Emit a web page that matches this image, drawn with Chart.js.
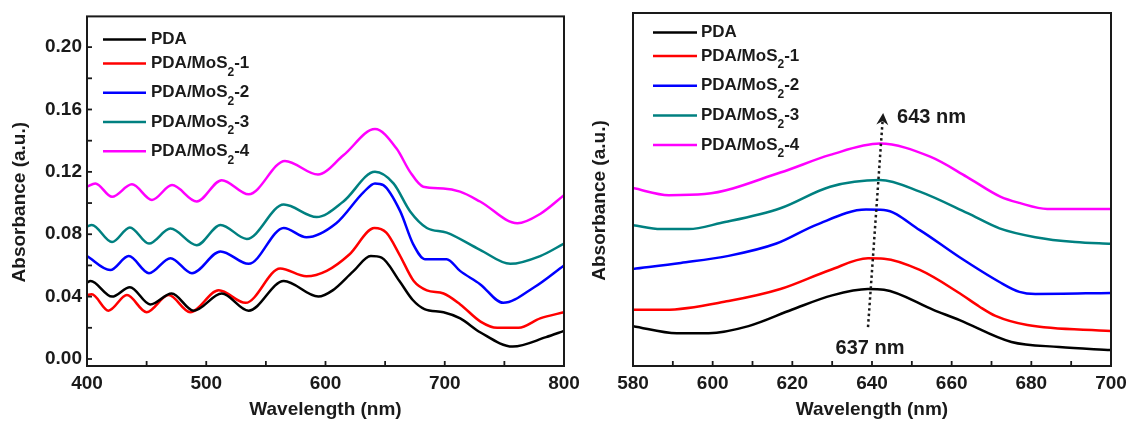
<!DOCTYPE html>
<html>
<head>
<meta charset="utf-8">
<script src="https://cdn.jsdelivr.net/npm/chart.js@4.4.0/dist/chart.umd.min.js"></script>
<style>
  html, body { margin: 0; padding: 0; background: #fff; }
  #wrap { position: relative; width: 1133px; height: 421px; }
  .panel { position: absolute; top: 0; height: 421px; }
  #left { left: 0; width: 600px; }
  #right { left: 575px; width: 558px; }
</style>
</head>
<body>
<div id="wrap">
  <div class="panel" id="left"><canvas id="fullChart"></canvas></div>
  <div class="panel" id="right"><canvas id="zoomChart"></canvas></div>
</div>
<script>
// Series names and colours
var seriesNames = ['PDA', 'PDA/MoS2-1', 'PDA/MoS2-2', 'PDA/MoS2-3', 'PDA/MoS2-4'];
var seriesColors = ['#000000', '#ff0000', '#0000ff', '#008080', '#ff00ff'];

// Left panel: full spectra 400-800 nm
var pdaWl = [400, 403, 421, 436, 453, 471, 489.5, 513, 535.5, 565, 594, 606, 623, 638, 647, 662, 673, 683, 699, 713, 730, 757, 785, 800];
var pdaAbs = [0.049, 0.050, 0.040, 0.046, 0.035, 0.042, 0.031, 0.042, 0.031, 0.050, 0.040, 0.044, 0.056, 0.066, 0.065, 0.050, 0.038, 0.032, 0.030, 0.026, 0.017, 0.008, 0.014, 0.018];
var mos1Wl = [400, 404, 418, 433.5, 450, 468.5, 486.5, 510.5, 533, 562, 584, 601, 620, 641, 651, 662, 674, 685, 699, 713, 730, 744, 762, 780, 800];
var mos1Abs = [0.041, 0.0415, 0.031, 0.041, 0.030, 0.041, 0.030, 0.044, 0.036, 0.058, 0.053, 0.0565, 0.067, 0.084, 0.081, 0.067, 0.050, 0.044, 0.042, 0.035, 0.024, 0.020, 0.020, 0.026, 0.030];
var mos2Wl = [400, 419.5, 435, 452, 470, 488, 512, 535.5, 565, 584, 609, 632, 641.5, 648.5, 662.5, 673.6, 683.4, 701.6, 712.8, 729.6, 749, 775, 800];
var mos2Abs = [0.066, 0.057, 0.066, 0.055, 0.0646, 0.055, 0.069, 0.061, 0.084, 0.078, 0.087, 0.107, 0.1126, 0.1115, 0.095, 0.0735, 0.064, 0.064, 0.0565, 0.048, 0.036, 0.046, 0.060];
var mos3Wl = [400, 404, 421, 436, 452, 470, 492, 512, 534, 565, 592.6, 615, 641.5, 657, 671, 685, 701.6, 729.6, 755, 780, 800];
var mos3Abs = [0.085, 0.086, 0.075, 0.0844, 0.074, 0.0836, 0.073, 0.086, 0.077, 0.099, 0.091, 0.101, 0.120, 0.1126, 0.0946, 0.084, 0.081, 0.070, 0.061, 0.066, 0.074];
var mos4Wl = [400, 407, 421, 437.7, 454.5, 471.3, 492, 513, 535.6, 566, 593.7, 615, 641.5, 659.7, 670.9, 682, 698.8, 712.8, 729.6, 761, 780, 800];
var mos4Abs = [0.1105, 0.1126, 0.104, 0.112, 0.102, 0.1115, 0.101, 0.1147, 0.1056, 0.127, 0.1183, 0.1306, 0.1475, 0.1348, 0.120, 0.1105, 0.1094, 0.1073, 0.101, 0.087, 0.093, 0.105];

// Right panel: 580-700 nm, curves offset (arbitrary units)
var zPdaWl = [580, 591, 599, 609, 620, 630, 639, 643, 655.4, 662, 675, 687, 700];
var zPdaAbs = [0.113, 0.093, 0.093, 0.113, 0.160, 0.200, 0.218, 0.216, 0.159, 0.130, 0.068, 0.054, 0.045];
var zMos1Wl = [580, 588, 604, 617, 629.5, 639, 643, 652, 662, 667, 671, 679, 700];
var zMos1Abs = [0.159, 0.159, 0.184, 0.218, 0.272, 0.305, 0.304, 0.272, 0.206, 0.168, 0.142, 0.116, 0.099];
var zMos2Wl = [580, 592, 604, 616, 626, 638.5, 643, 652, 662, 672, 677, 681, 700];
var zMos2Abs = [0.275, 0.292, 0.312, 0.347, 0.400, 0.443, 0.442, 0.385, 0.308, 0.238, 0.210, 0.204, 0.207];
var zMos3Wl = [580, 587, 594, 602, 617, 629.5, 642, 652, 664, 672, 681, 691, 700];
var zMos3Abs = [0.399, 0.388, 0.388, 0.405, 0.447, 0.508, 0.527, 0.494, 0.433, 0.390, 0.365, 0.351, 0.346];
var zMos4Wl = [580, 589, 598, 617, 629.5, 642, 654.6, 663.8, 672.2, 677, 684, 700];
var zMos4Abs = [0.504, 0.484, 0.487, 0.548, 0.598, 0.630, 0.593, 0.536, 0.480, 0.462, 0.445, 0.445];

// Tick values
var fullXTicks = [400, 450, 500, 550, 600, 650, 700, 750, 800];
var fullYTicks = [0, 0.02, 0.04, 0.06, 0.08, 0.10, 0.12, 0.14, 0.16, 0.18, 0.20];
var zoomXTicks = [580, 590, 600, 610, 620, 630, 640, 650, 660, 670, 680, 690, 700];

// Peak shift annotation (nm, a.u.)
var arrowFrom = { x: 639.0, y: 0.110 };
var arrowTo = { x: 642.8, y: 0.717 };
var startLabel = { x: 639.5, y: 0.051, text: '637 nm' };
var endLabel = { x: 646.3, y: 0.703, text: '643 nm' };

var FONT = '"Liberation Sans", Arial, sans-serif';
var INK = '#1a1a1a';

function toPoints(xs, ys) {
    return xs.map(function(x, i) { return { x: x, y: ys[i] }; });
}

function makeDatasets(pairs) {
    return pairs.map(function(p, i) {
        return {
            label: seriesNames[i],
            data: toPoints(p[0], p[1]),
            borderColor: seriesColors[i],
            backgroundColor: seriesColors[i],
            borderWidth: 2.5,
            pointRadius: 0,
            cubicInterpolationMode: 'monotone',
            fill: false
        };
    });
}

// Box frame, inward ticks and the rotated y title
var frameTicks = {
    id: 'frameTicks',
    afterDraw: function(chart, args, opts) {
        var ctx = chart.ctx, a = chart.chartArea;
        ctx.save();
        ctx.strokeStyle = INK;
        ctx.lineWidth = 1.8;
        ['x', 'y'].forEach(function(id) {
            var s = chart.scales[id];
            s.ticks.forEach(function(t) {
                var p = s.getPixelForValue(t.value);
                ctx.beginPath();
                if (id === 'x') {
                    ctx.moveTo(p, a.bottom);
                    ctx.lineTo(p, a.bottom - 5);
                } else {
                    ctx.moveTo(a.left, p);
                    ctx.lineTo(a.left + 5, p);
                }
                ctx.stroke();
            });
        });
        ctx.lineWidth = 2;
        ctx.strokeRect(a.left, a.top, a.right - a.left, a.bottom - a.top);

        // y title
        ctx.fillStyle = INK;
        ctx.font = 'bold 19px ' + FONT;
        ctx.textAlign = 'center';
        ctx.textBaseline = 'middle';
        ctx.translate(opts.titleX, (a.top + a.bottom) / 2 + 11);
        ctx.rotate(-Math.PI / 2);
        ctx.fillText('Absorbance (a.u.)', 0, 0);
        ctx.restore();
    }
};

// Legend drawn inside the plot, with MoS2 subscript
var sampleLegend = {
    id: 'sampleLegend',
    afterDatasetsDraw: function(chart, args, opts) {
        var ctx = chart.ctx, a = chart.chartArea;
        ctx.save();
        chart.data.datasets.forEach(function(ds, i) {
            var y = a.top + opts.top + (i > 0 ? opts.firstGap + (i - 1) * opts.gap : 0);
            ctx.strokeStyle = ds.borderColor;
            ctx.lineWidth = 2.5;
            ctx.beginPath();
            ctx.moveTo(a.left + opts.lineX0, y);
            ctx.lineTo(a.left + opts.lineX1, y);
            ctx.stroke();

            ctx.fillStyle = INK;
            ctx.textAlign = 'left';
            ctx.textBaseline = 'middle';
            var x = a.left + opts.textX;
            var k = ds.label.indexOf('MoS2');
            ctx.font = 'bold 17px ' + FONT;
            if (k < 0) {
                ctx.fillText(ds.label, x, y);
                return;
            }
            var pre = ds.label.slice(0, k + 3);
            var post = ds.label.slice(k + 4);
            ctx.fillText(pre, x, y);
            x += ctx.measureText(pre).width;
            ctx.font = 'bold 12px ' + FONT;
            ctx.fillText('2', x, y + 9);
            x += ctx.measureText('2').width;
            ctx.font = 'bold 17px ' + FONT;
            ctx.fillText(post, x, y);
        });
        ctx.restore();
    }
};

// Dotted arrow showing the red shift of the peak
var peakShift = {
    id: 'peakShift',
    afterDatasetsDraw: function(chart) {
        var ctx = chart.ctx, xs = chart.scales.x, ys = chart.scales.y;
        var x0 = xs.getPixelForValue(arrowFrom.x), y0 = ys.getPixelForValue(arrowFrom.y);
        var x1 = xs.getPixelForValue(arrowTo.x), y1 = ys.getPixelForValue(arrowTo.y);
        var ang = Math.atan2(y1 - y0, x1 - x0);
        var ux = Math.cos(ang), uy = Math.sin(ang);
        ctx.save();
        ctx.strokeStyle = INK;
        ctx.lineWidth = 2.5;
        ctx.setLineDash([2.5, 3]);
        ctx.beginPath();
        ctx.moveTo(x0, y0);
        ctx.lineTo(x1 - ux * 8, y1 - uy * 8);
        ctx.stroke();
        ctx.setLineDash([]);
        // arrow head
        var px = -uy, py = ux;
        ctx.fillStyle = INK;
        ctx.beginPath();
        ctx.moveTo(x1, y1);
        ctx.lineTo(x1 - ux * 12 + px * 6, y1 - uy * 12 + py * 6);
        ctx.lineTo(x1 - ux * 8, y1 - uy * 8);
        ctx.lineTo(x1 - ux * 12 - px * 6, y1 - uy * 12 - py * 6);
        ctx.closePath();
        ctx.fill();

        ctx.font = 'bold 20px ' + FONT;
        ctx.textBaseline = 'middle';
        ctx.textAlign = 'center';
        ctx.fillText(startLabel.text, xs.getPixelForValue(startLabel.x), ys.getPixelForValue(startLabel.y));
        ctx.textAlign = 'left';
        ctx.fillText(endLabel.text, xs.getPixelForValue(endLabel.x), ys.getPixelForValue(endLabel.y));
        ctx.restore();
    }
};

function baseOptions(xMin, xMax, xTicks, xMajor, yMin, yMax, yTicks, yLabelled, yWidth, padRight) {
    return {
        responsive: true,
        maintainAspectRatio: false,
        animation: false,
        layout: { padding: { top: 13, right: padRight, left: 0, bottom: 0 } },
        plugins: {
            legend: { display: false },
            tooltip: { enabled: false }
        },
        scales: {
            x: {
                type: 'linear',
                min: xMin,
                max: xMax,
                afterBuildTicks: function(s) {
                    s.ticks = xTicks.map(function(v) { return { value: v }; });
                },
                afterFit: function(s) { s.height = 55; },
                grid: { display: false, drawTicks: false },
                border: { display: false },
                ticks: {
                    autoSkip: false,
                    maxRotation: 0,
                    padding: 6,
                    color: INK,
                    font: { family: FONT, size: 19, weight: 'bold' },
                    callback: function(v) { return v % xMajor === 0 ? String(v) : ''; }
                },
                title: {
                    display: true,
                    text: 'Wavelength (nm)',
                    color: INK,
                    font: { family: FONT, size: 19, weight: 'bold' },
                    padding: { top: 0, bottom: 0 }
                }
            },
            y: {
                type: 'linear',
                min: yMin,
                max: yMax,
                afterBuildTicks: function(s) {
                    s.ticks = yTicks.map(function(v) { return { value: v }; });
                },
                afterFit: function(s) { s.width = yWidth; },
                grid: { display: false, drawTicks: false },
                border: { display: false },
                ticks: {
                    display: yLabelled,
                    padding: 5,
                    color: INK,
                    font: { family: FONT, size: 19, weight: 'bold' },
                    callback: function(v) {
                        var q = v / 0.04;
                        return Math.abs(q - Math.round(q)) < 1e-6 ? v.toFixed(2) : '';
                    }
                }
            }
        }
    };
}

document.addEventListener('DOMContentLoaded', function() {
    var fullOpts = baseOptions(400, 800, fullXTicks, 100, -0.0045, 0.2197, fullYTicks, true, 87, 36);
    fullOpts.plugins.frameTicks = { titleX: 20 };
    fullOpts.plugins.sampleLegend = { top: 23, firstGap: 24, gap: 29.3, lineX0: 16, lineX1: 59, textX: 64 };
    new Chart(document.getElementById('fullChart'), {
        type: 'line',
        data: {
            datasets: makeDatasets([[pdaWl, pdaAbs], [mos1Wl, mos1Abs], [mos2Wl, mos2Abs], [mos3Wl, mos3Abs], [mos4Wl, mos4Abs]])
        },
        options: fullOpts,
        plugins: [frameTicks, sampleLegend]
    });

    var zoomOpts = baseOptions(580, 700, zoomXTicks, 20, 0, 1, [], false, 58, 22);
    zoomOpts.plugins.frameTicks = { titleX: 25 };
    zoomOpts.plugins.sampleLegend = { top: 19.5, firstGap: 23.5, gap: 29.7, lineX0: 20, lineX1: 64, textX: 68 };
    new Chart(document.getElementById('zoomChart'), {
        type: 'line',
        data: {
            datasets: makeDatasets([[zPdaWl, zPdaAbs], [zMos1Wl, zMos1Abs], [zMos2Wl, zMos2Abs], [zMos3Wl, zMos3Abs], [zMos4Wl, zMos4Abs]])
        },
        options: zoomOpts,
        plugins: [frameTicks, sampleLegend, peakShift]
    });
});
</script>
</body>
</html>
